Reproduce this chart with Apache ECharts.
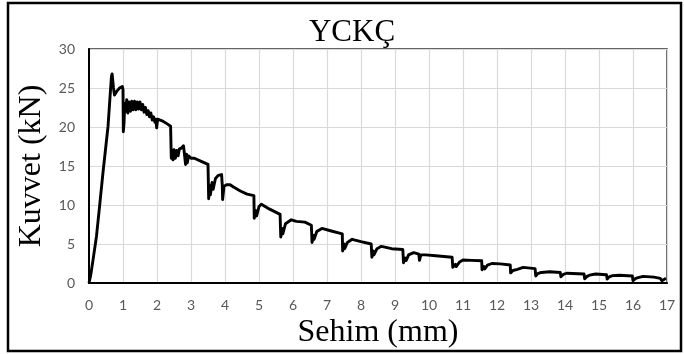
<!DOCTYPE html>
<html>
<head>
<meta charset="utf-8">
<script src="https://cdn.jsdelivr.net/npm/echarts@6/dist/echarts.min.js"></script>
<style>
  html, body { margin: 0; padding: 0; background: #fff; }
  #chart { width: 684px; height: 354px; }
</style>
</head>
<body>
<div id="chart"></div>
<script>
// Load–deflection record of the YCKÇ specimen
const chartTitle = 'YCKÇ';
const xName = 'Sehim (mm)';
const yName = 'Kuvvet (kN)';

// deflection (mm)
const sehim = [
  0, 0.05, 0.12, 0.22, 0.31, 0.41, 0.56, 0.66, 0.68, 0.72, 0.75, 0.82, 0.9, 0.98, 1.0, 1.01, 1.03, 1.05,
  1.08, 1.11, 1.14, 1.18, 1.22, 1.26, 1.3, 1.34, 1.38, 1.42, 1.46, 1.5, 1.54, 1.58, 1.62, 1.66, 1.7, 1.74,
  1.78, 1.82, 1.86, 1.9, 1.94, 1.97, 1.99, 2.02, 2.15, 2.3, 2.4, 2.42, 2.44, 2.47, 2.5, 2.54, 2.58, 2.62,
  2.66, 2.72, 2.78, 2.82, 2.84, 2.87, 2.89, 2.93, 3.0, 3.1, 3.3, 3.5, 3.52, 3.55, 3.57, 3.62, 3.65, 3.72,
  3.8, 3.9, 3.92, 3.93, 3.97, 4.05, 4.15, 4.25, 4.45, 4.65, 4.85, 4.86, 4.9, 4.93, 5.0, 5.07, 5.3, 5.62,
  5.64, 5.68, 5.7, 5.78, 5.95, 6.1, 6.35, 6.54, 6.56, 6.6, 6.62, 6.7, 6.85, 7.1, 7.45, 7.46, 7.5, 7.52,
  7.6, 7.74, 8.0, 8.3, 8.32, 8.36, 8.38, 8.47, 8.6, 8.65, 8.9, 9.23, 9.25, 9.3, 9.33, 9.4, 9.55, 9.7,
  9.72, 9.76, 9.9, 10.2, 10.68, 10.7, 10.78, 10.8, 10.9, 11.0, 11.25, 11.55, 11.56, 11.62, 11.64, 11.72,
  11.85, 12.1, 12.39, 12.4, 12.47, 12.5, 12.6, 12.77, 13.12, 13.14, 13.2, 13.22, 13.3, 13.55, 13.86,
  13.88, 13.95, 14.05, 14.56, 14.58, 14.65, 14.72, 14.9, 15.22, 15.24, 15.3, 15.4, 15.6, 15.98, 16.0,
  16.08, 16.15, 16.3, 16.62, 16.8, 16.85, 16.9, 16.97
];

// load (kN)
const kuvvet = [
  0, 1.0, 3.0, 6.0, 9.8, 14.1, 20.1, 26.5, 26.8, 25.0, 24.1, 24.6, 25.0, 25.2, 24.8, 19.4, 20.5, 23.0,
  22.0, 23.5, 21.8, 23.2, 22.0, 23.3, 22.2, 23.3, 22.2, 23.2, 22.3, 23.2, 22.2, 22.9, 21.9, 22.5, 21.6, 22.1,
  21.3, 21.8, 20.9, 21.3, 20.6, 21.0, 19.9, 21.0, 20.8, 20.4, 20.1, 16.0, 17.0, 15.8, 17.1, 16.0, 17.0, 16.3,
  17.2, 17.3, 17.6, 17.5, 15.2, 16.5, 15.4, 16.3, 16.0, 16.0, 15.6, 15.2, 10.8, 12.5, 11.3, 12.9, 12.0, 13.4,
  13.8, 13.9, 12.5, 10.7, 12.4, 12.6, 12.6, 12.3, 11.8, 11.4, 11.2, 8.3, 9.3, 8.6, 9.8, 10.1, 9.5, 8.8,
  5.9, 7.0, 6.3, 7.6, 8.1, 7.9, 7.8, 7.4, 5.2, 6.1, 5.6, 6.6, 7.0, 6.7, 6.3, 4.1, 5.0, 4.4,
  5.2, 5.6, 5.3, 5.0, 3.3, 4.1, 3.6, 4.4, 4.7, 4.5, 4.4, 4.3, 2.6, 3.2, 2.9, 3.6, 3.9, 3.7,
  2.9, 3.6, 3.6, 3.5, 3.3, 2.0, 2.4, 2.1, 2.7, 2.95, 2.9, 2.85, 1.7, 2.1, 1.8, 2.3,
  2.5, 2.45, 2.3, 1.3, 1.6, 1.4, 1.75, 2.0, 1.85, 0.9, 1.2, 1.0, 1.35, 1.45, 1.35,
  0.8, 1.1, 1.25, 1.15, 0.55, 0.85, 1.0, 1.15, 1.05, 0.5, 0.8, 0.95, 1.0, 0.9, 0.3,
  0.6, 0.7, 0.85, 0.75, 0.6, 0.3, 0.55, 0.6
];

const xMin = 0, xMax = 17, xStep = 1;
const yMin = 0, yMax = 30, yStep = 5;

const points = sehim.map((x, i) => [x, kuvvet[i]]);

const serif = '"Liberation Serif", "Times New Roman", serif';
const sans = 'Lato, "Open Sans", sans-serif';

const chart = echarts.init(document.getElementById('chart'), null, { renderer: 'canvas' });
chart.setOption({
  animation: false,
  backgroundColor: '#ffffff',
  title: {
    text: chartTitle,
    left: 347,
    top: 12,
    textAlign: 'center',
    textStyle: { fontFamily: serif, fontSize: 31, fontWeight: 'normal', color: '#000' }
  },
  grid: {
    left: 89, right: 17, top: 49, bottom: 71,
    show: true, borderColor: '#333', borderWidth: 1.5, backgroundColor: 'transparent'
  },
  xAxis: {
    type: 'value',
    min: xMin, max: xMax, interval: xStep,
    name: xName,
    nameLocation: 'middle',
    nameGap: 31,
    nameTextStyle: { fontFamily: serif, fontSize: 32, color: '#000' },
    axisLine: { show: true, onZero: false, lineStyle: { color: '#000', width: 2 } },
    axisTick: { show: false },
    axisLabel: { margin: 15, fontFamily: sans, fontSize: 14, color: '#595959' },
    splitLine: { show: true, lineStyle: { color: '#d9d9d9', width: 1.2 } }
  },
  yAxis: {
    type: 'value',
    min: yMin, max: yMax, interval: yStep,
    name: yName,
    nameLocation: 'middle',
    nameGap: 41,
    nameTextStyle: { fontFamily: serif, fontSize: 32, color: '#000' },
    axisLine: { show: true, onZero: false, lineStyle: { color: '#000', width: 2 } },
    axisTick: { show: false },
    axisLabel: { margin: 14, fontFamily: sans, fontSize: 14, color: '#595959' },
    splitLine: { show: true, lineStyle: { color: '#d9d9d9', width: 1.2 } }
  },
  series: [{
    type: 'line',
    data: points,
    showSymbol: false,
    smooth: false,
    lineStyle: { color: '#000', width: 2.9, join: 'round' },
    z: 3
  }],
  graphic: [{
    type: 'rect',
    shape: { x: 8, y: 3, width: 673, height: 348 },
    style: { fill: 'none', stroke: '#000', lineWidth: 2.5 },
    silent: true
  }]
});
</script>
</body>
</html>
